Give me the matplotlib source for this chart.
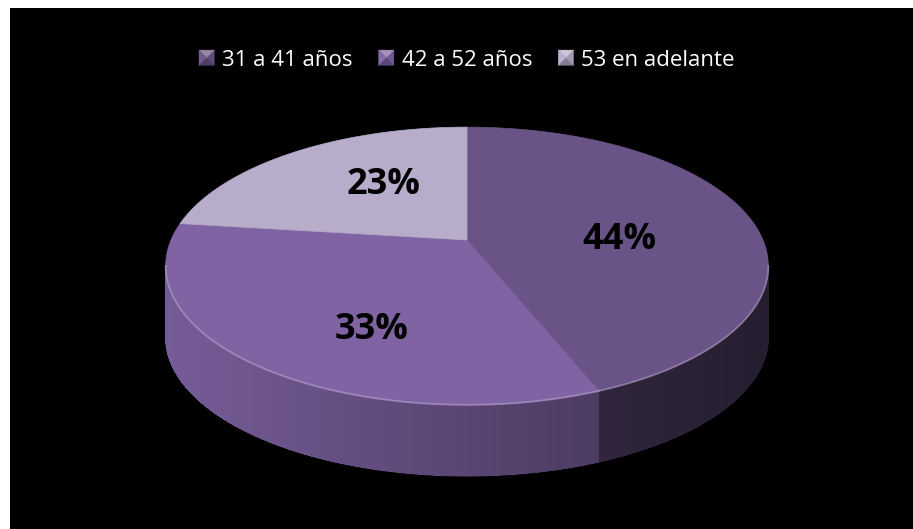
import numpy as np
import matplotlib
matplotlib.use("Agg")
import matplotlib.pyplot as plt
from matplotlib.patches import Polygon, Patch
from matplotlib.collections import PolyCollection, LineCollection
from matplotlib.legend_handler import HandlerPatch
from matplotlib.colors import to_rgb

plt.rcParams['font.family'] = ['Open Sans', 'DejaVu Sans']

# age groups and their share
labels = ['31 a 41 años', '42 a 52 años', '53 en adelante']
values = [44, 33, 23]
pct_text = ['44%', '33%', '23%']

colors = ['#6a5387', '#7f63a3', '#b8accb']
side_dim = [0.75, 1.0, 1.0]
label_nudge = [(-4, 14), (13, 27), (16, -4)]

# perspective of the 3D disc (pixel units)
CX, CY = 467, 240
A, B, K = 296, 134, 0.187
DEPTH = 71


def proj(x, z, drop=0.0):
    w = 1 + K * z
    return CX + A * x / w, CY - B * z / w + drop


def arc(t0, t1, n=200, r=1.0, drop=0.0):
    t = np.radians(np.linspace(t0, t1, n))
    X, Y = proj(r * np.cos(t), r * np.sin(t), drop)
    return np.column_stack([X, Y])


def shade(X):
    return np.clip(0.93 - 0.33 * (X - 166) / 434, 0.3, 1.0)


class BevelSquare(HandlerPatch):
    def create_artists(self, legend, orig_handle, xdescent, ydescent,
                       width, height, fontsize, trans):
        s = height
        x0 = -xdescent + (width - s) / 2
        y0 = -ydescent
        c = np.array(to_rgb(orig_handle.get_facecolor()))
        m = (x0 + s / 2, y0 + s / 2)
        p = [(x0, y0), (x0 + s, y0), (x0 + s, y0 + s), (x0, y0 + s)]
        tris = [(p[0], p[1], 0.72), (p[1], p[2], 0.9), (p[2], p[3], 1.3), (p[3], p[0], 1.05)]
        out = []
        for a, b, f in tris:
            col = np.clip(c * f if f <= 1 else c + (1 - c) * (f - 1), 0, 1)
            out.append(Polygon([a, b, m], closed=True, facecolor=col,
                               edgecolor=col, lw=0.3, transform=trans))
        return out


fig = plt.figure(figsize=(9.13, 5.29), dpi=100, facecolor='white')
ax = fig.add_axes([10 / 913, 0, 903 / 913, 521 / 529])
ax.set_facecolor('black')
ax.set_xlim(10, 913)
ax.set_ylim(529, 8)
ax.set_xticks([])
ax.set_yticks([])
for sp in ax.spines.values():
    sp.set_visible(False)

bounds = 90 - np.concatenate([[0], np.cumsum(values)]) * 3.6
vis_lo = -180 + np.degrees(np.arcsin(K))
vis_hi = -np.degrees(np.arcsin(K))

# side walls, shaded darker towards the right
for i in range(len(values)):
    t_hi, t_lo = bounds[i], bounds[i + 1]
    a, b = max(t_lo, vis_lo), min(t_hi, vis_hi)
    if a >= b:
        continue
    n = int((b - a) * 3) + 2
    top = arc(a, b, n)
    bot = arc(a, b, n, drop=DEPTH)
    quads, cols, segs = [], [], []
    base = np.array(to_rgb(colors[i]))
    for j in range(n - 1):
        quads.append([top[j], top[j + 1], bot[j + 1], bot[j]])
        segs.append([bot[j], bot[j + 1]])
        xm = (top[j, 0] + top[j + 1, 0]) / 2
        cols.append(np.clip(base * shade(xm) * side_dim[i], 0, 1))
    ax.add_collection(PolyCollection(quads, facecolors=cols, edgecolors='none',
                                     linewidths=0, antialiased=False))
    # smooth the lower edge
    ax.add_collection(LineCollection(segs, colors=cols, linewidths=1.0))

# top faces
for i in range(len(values)):
    pts = np.vstack([[proj(0, 0)], arc(bounds[i], bounds[i + 1])])
    ax.add_patch(Polygon(pts, closed=True, facecolor=colors[i], edgecolor=colors[i], lw=0.5))
    # light bevel along the front rim
    a, b = max(bounds[i + 1], vis_lo), min(bounds[i], vis_hi)
    if a < b:
        rim = arc(a, b)
        c = np.array(to_rgb(colors[i]))
        ax.plot(rim[:, 0], rim[:, 1], color=c + (1 - c) * 0.3, lw=1.3, alpha=0.8)

# percentage labels
for i in range(len(values)):
    mid = np.radians((bounds[i] + bounds[i + 1]) / 2)
    X, Y = proj(0.55 * np.cos(mid), 0.55 * np.sin(mid))
    ax.text(X + label_nudge[i][0], Y + label_nudge[i][1], pct_text[i],
            ha='center', va='center', fontsize=26, fontweight='bold', color='black')

handles = [Patch(facecolor=c, label=l) for c, l in zip(colors, labels)]
fig.legend(handles=handles, loc='center', bbox_to_anchor=(467 / 913, 1 - 60 / 529),
           ncol=3, frameon=False, fontsize=16, labelcolor='white',
           handlelength=0.68, handleheight=0.68, handletextpad=0.36, columnspacing=1.17,
           handler_map={Patch: BevelSquare()})

fig.savefig('out.png', dpi=100, facecolor='white')
